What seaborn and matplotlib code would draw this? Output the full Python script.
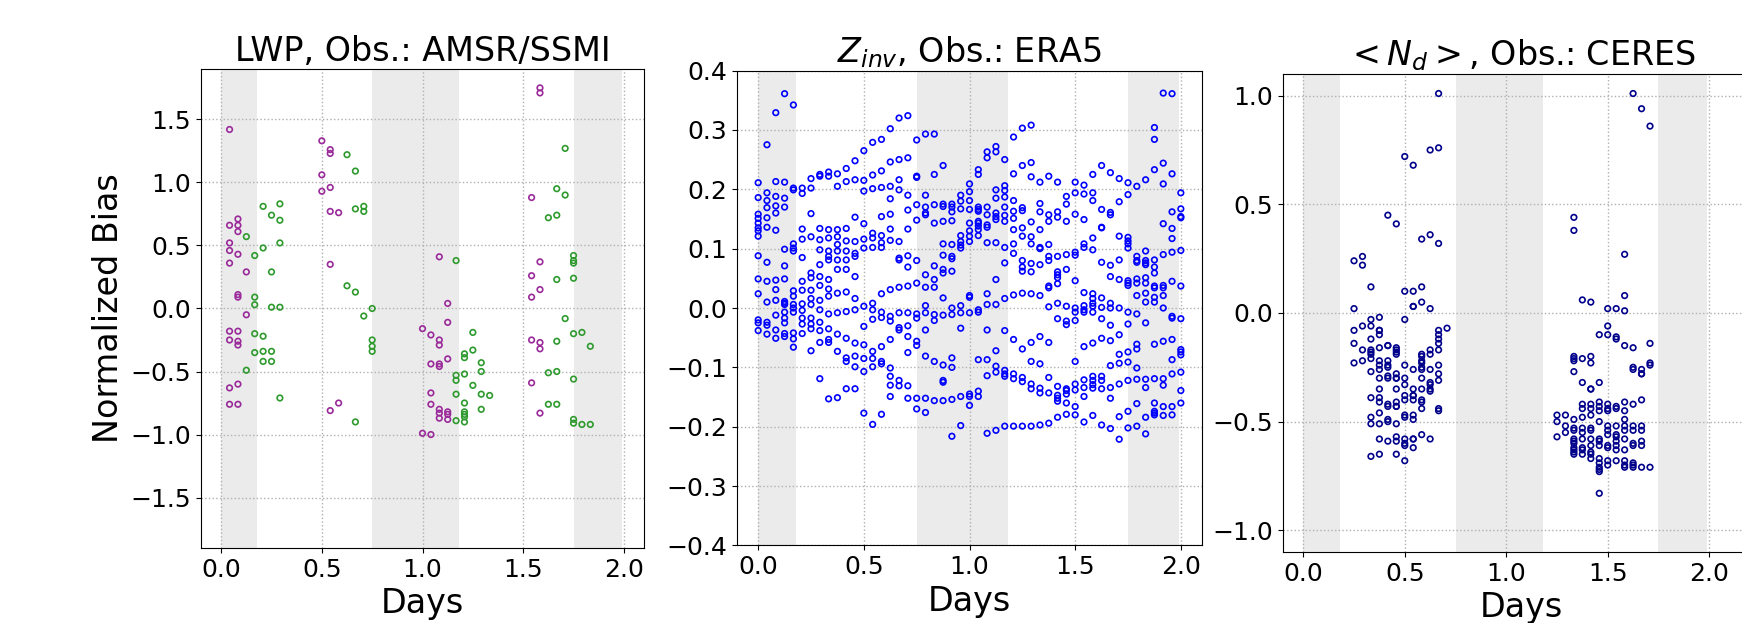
import numpy as np
import pandas as pd
import matplotlib
matplotlib.use('Agg')
import matplotlib.pyplot as plt
import seaborn as sns

# x positions are hourly outputs, x = hour / 24 (days)
# LWP panel: two sets of model runs (purple and green)
lwp_a_hours = [1, 2, 3, 12, 13, 14, 24, 25, 26, 27, 37, 38]
lwp_a_vals = [
    [1.42, 0.66, 0.52, 0.46, 0.36, -0.18, -0.25, -0.63, -0.76],
    [0.71, 0.66, 0.61, 0.43, 0.11, 0.09, -0.18, -0.26, -0.29, -0.60, -0.76],
    [0.29, -0.05],
    [1.33, 1.06, 0.93],
    [1.26, 1.23, 0.96, 0.77, 0.35, -0.81],
    [0.76, -0.75],
    [-0.16, -0.99],
    [-0.21, -0.44, -0.67, -0.76, -1.00],
    [0.41, -0.25, -0.29, -0.44, -0.46, -0.80, -0.83, -0.87],
    [0.04, -0.11, -0.40, -0.82, -0.84, -0.88],
    [0.88, 0.26, 0.09, -0.25, -0.59],
    [1.75, 1.71, 0.37, 0.15, -0.27, -0.32, -0.83],
]
lwp_b_hours = [3, 4, 5, 6, 7, 15, 16, 17, 18, 28, 29, 30, 31, 32, 39, 40, 41, 42, 43, 44]
lwp_b_vals = [
    [0.57, -0.49],
    [0.42, 0.09, 0.03, -0.20, -0.35],
    [0.81, 0.48, -0.22, -0.34, -0.42],
    [0.74, 0.29, 0.01, -0.34, -0.42],
    [0.83, 0.70, 0.52, 0.01, -0.71],
    [1.22, 0.18],
    [1.09, 0.79, 0.13, -0.90],
    [0.81, 0.77, -0.06],
    [0.00, -0.25, -0.30, -0.34],
    [0.38, -0.53, -0.57, -0.68, -0.89],
    [-0.36, -0.39, -0.52, -0.75, -0.82, -0.84, -0.86, -0.90],
    [-0.19, -0.33, -0.61],
    [-0.43, -0.50, -0.68, -0.80],
    [-0.69],
    [0.72, -0.51, -0.76],
    [0.95, 0.74, 0.23, -0.26, -0.50, -0.76],
    [1.27, 0.90, -0.08],
    [0.42, 0.38, 0.36, 0.24, -0.20, -0.56, -0.88, -0.91],
    [-0.19, -0.92],
    [-0.30, -0.92],
]

# Zinv panel, every hour 0..48
zinv_hours = list(range(49))
zinv_vals = [
    [0.211, 0.186, 0.158, 0.151, 0.143, 0.135, 0.130, 0.121, 0.088, 0.049, 0.024, -0.020, -0.025, -0.038],
    [0.275, 0.194, 0.181, 0.169, 0.152, 0.136, 0.077, 0.045, 0.010, -0.024, -0.029, -0.044],
    [0.329, 0.213, 0.188, 0.172, 0.160, 0.131, 0.047, 0.031, 0.013, -0.012, -0.037, -0.051],
    [0.361, 0.212, 0.185, 0.170, 0.099, 0.071, 0.049, 0.011, 0.008, 0.006, -0.007, -0.017, -0.025, -0.043, -0.048],
    [0.342, 0.202, 0.199, 0.108, 0.101, 0.096, 0.029, 0.020, 0.006, 0.000, -0.007, -0.042, -0.052, -0.066],
    [0.202, 0.193, 0.133, 0.116, 0.085, 0.045, 0.030, 0.007, -0.004, -0.017, -0.027, -0.043],
    [0.218, 0.202, 0.159, 0.120, 0.059, 0.051, 0.030, 0.016, 0.006, -0.017, -0.027, -0.035, -0.072],
    [0.225, 0.222, 0.134, 0.115, 0.098, 0.073, 0.053, 0.038, 0.013, -0.003, -0.024, -0.038, -0.058, -0.119],
    [0.229, 0.222, 0.132, 0.118, 0.096, 0.087, 0.081, 0.048, 0.032, 0.020, -0.010, -0.035, -0.053, -0.058, -0.153],
    [0.226, 0.205, 0.132, 0.120, 0.107, 0.096, 0.081, 0.065, 0.025, -0.008, -0.044, -0.073, -0.151],
    [0.235, 0.213, 0.134, 0.113, 0.096, 0.081, 0.065, 0.027, -0.006, -0.051, -0.084, -0.090, -0.136],
    [0.248, 0.216, 0.153, 0.112, 0.092, 0.087, 0.053, 0.016, -0.003, -0.059, -0.081, -0.099, -0.136],
    [0.265, 0.215, 0.197, 0.142, 0.116, 0.101, 0.003, -0.031, -0.062, -0.085, -0.107, -0.177],
    [0.279, 0.224, 0.201, 0.126, 0.118, 0.102, 0.008, -0.003, -0.019, -0.073, -0.085, -0.099, -0.196],
    [0.284, 0.231, 0.203, 0.154, 0.122, 0.110, 0.102, 0.024, -0.007, -0.016, -0.065, -0.090, -0.094, -0.179],
    [0.302, 0.246, 0.205, 0.184, 0.158, 0.133, 0.114, 0.031, -0.014, -0.022, -0.053, -0.101, -0.115, -0.130, -0.149],
    [0.320, 0.250, 0.216, 0.199, 0.112, 0.084, 0.081, 0.035, -0.008, -0.033, -0.037, -0.122, -0.131],
    [0.324, 0.253, 0.190, 0.165, 0.133, 0.088, 0.069, 0.037, -0.008, -0.030, -0.048, -0.075, -0.131, -0.152],
    [0.283, 0.222, 0.220, 0.174, 0.148, 0.080, 0.042, -0.010, -0.017, -0.056, -0.063, -0.152, -0.170],
    [0.293, 0.190, 0.170, 0.160, 0.157, 0.056, 0.035, 0.004, -0.008, -0.037, -0.081, -0.152, -0.176],
    [0.293, 0.225, 0.174, 0.143, 0.071, 0.048, 0.035, -0.011, -0.021, -0.090, -0.156],
    [0.240, 0.175, 0.171, 0.146, 0.108, 0.089, 0.065, 0.059, 0.017, -0.012, -0.096, -0.122, -0.125, -0.156],
    [0.175, 0.170, 0.162, 0.147, 0.107, 0.087, 0.083, 0.062, 0.000, -0.011, -0.084, -0.100, -0.154, -0.216],
    [0.190, 0.180, 0.167, 0.122, 0.112, 0.106, 0.101, 0.004, -0.008, -0.034, -0.149, -0.198],
    [0.209, 0.196, 0.181, 0.166, 0.143, 0.130, 0.121, 0.112, 0.021, 0.018, -0.008, -0.145, -0.149, -0.164],
    [0.233, 0.225, 0.170, 0.166, 0.163, 0.146, 0.143, 0.138, 0.132, 0.122, -0.003, -0.007, -0.087, -0.140, -0.149],
    [0.263, 0.253, 0.170, 0.157, 0.140, 0.136, 0.110, 0.024, 0.006, -0.037, -0.087, -0.114, -0.211],
    [0.272, 0.263, 0.199, 0.185, 0.160, 0.154, 0.149, 0.110, 0.048, 0.006, -0.072, -0.098, -0.108, -0.206],
    [0.250, 0.206, 0.198, 0.187, 0.170, 0.156, 0.146, 0.102, 0.076, 0.016, -0.038, -0.105, -0.111, -0.115, -0.199],
    [0.288, 0.226, 0.181, 0.163, 0.151, 0.132, 0.108, 0.092, 0.022, -0.053, -0.111, -0.119, -0.199],
    [0.303, 0.240, 0.169, 0.164, 0.135, 0.121, 0.080, 0.069, 0.062, 0.025, -0.069, -0.117, -0.124, -0.199],
    [0.308, 0.245, 0.221, 0.145, 0.120, 0.108, 0.075, 0.061, 0.024, -0.058, -0.090, -0.128, -0.136, -0.199],
    [0.212, 0.176, 0.162, 0.132, 0.102, 0.100, 0.073, 0.021, -0.048, -0.094, -0.135, -0.143, -0.197],
    [0.222, 0.157, 0.146, 0.107, 0.087, 0.080, 0.037, 0.034, 0.002, -0.058, -0.117, -0.143, -0.194],
    [0.212, 0.162, 0.153, 0.087, 0.061, 0.056, 0.051, 0.041, 0.008, -0.018, -0.132, -0.147, -0.152, -0.157, -0.184],
    [0.188, 0.175, 0.146, 0.090, 0.065, 0.003, -0.022, -0.028, -0.136, -0.139, -0.145, -0.160, -0.179],
    [0.212, 0.194, 0.158, 0.094, 0.089, 0.046, 0.000, -0.007, -0.021, -0.090, -0.128, -0.138, -0.166, -0.180],
    [0.207, 0.192, 0.149, 0.108, 0.102, 0.026, 0.004, -0.003, -0.007, -0.065, -0.121, -0.134, -0.149, -0.192],
    [0.225, 0.194, 0.181, 0.118, 0.098, 0.024, 0.016, 0.008, 0.003, -0.007, -0.059, -0.115, -0.122, -0.129, -0.135, -0.181],
    [0.240, 0.166, 0.136, 0.135, 0.077, 0.017, 0.001, -0.018, -0.051, -0.115, -0.122, -0.136, -0.197],
    [0.228, 0.161, 0.157, 0.072, 0.053, 0.008, 0.000, -0.029, -0.055, -0.097, -0.134, -0.152, -0.203],
    [0.218, 0.179, 0.121, 0.081, 0.048, 0.000, -0.045, -0.078, -0.093, -0.128, -0.183, -0.221],
    [0.211, 0.191, 0.119, 0.113, 0.108, 0.101, 0.046, 0.042, 0.038, -0.007, -0.027, -0.074, -0.091, -0.122, -0.174, -0.202],
    [0.205, 0.087, 0.080, 0.077, 0.049, 0.042, 0.021, -0.010, -0.061, -0.069, -0.101, -0.120, -0.161, -0.199],
    [0.216, 0.096, 0.080, 0.076, 0.073, 0.051, 0.042, 0.025, 0.010, -0.025, -0.120, -0.134, -0.184, -0.212],
    [0.304, 0.284, 0.233, 0.081, 0.069, 0.059, 0.037, 0.034, 0.018, 0.010, -0.061, -0.119, -0.160, -0.174, -0.177, -0.180],
    [0.362, 0.244, 0.209, 0.142, 0.090, 0.038, 0.034, 0.021, 0.000, -0.056, -0.119, -0.130, -0.166, -0.181],
    [0.361, 0.226, 0.162, 0.134, 0.117, 0.094, 0.045, -0.014, -0.017, -0.053, -0.087, -0.111, -0.166, -0.180],
    [0.194, 0.167, 0.154, 0.152, 0.097, 0.037, -0.018, -0.070, -0.074, -0.079, -0.108, -0.139, -0.160],
]

# Nd panel (only daytime overpasses)
nd_hours = [6, 7, 8, 9, 10, 11, 12, 13, 14, 15, 16, 17,
            30, 31, 32, 33, 34, 35, 36, 37, 38, 39, 40, 41]
nd_vals = [
    [0.24, 0.02, -0.08, -0.14, -0.23],
    [0.26, 0.22, -0.06, -0.17, -0.22],
    [0.12, -0.03, -0.06, -0.12, -0.17, -0.18, -0.19, -0.21, -0.27, -0.39, -0.48, -0.51, -0.66],
    [-0.02, -0.08, -0.08, -0.10, -0.16, -0.22, -0.24, -0.26, -0.30, -0.35, -0.39, -0.41, -0.46, -0.51, -0.58, -0.65],
    [0.45, -0.15, -0.15, -0.22, -0.24, -0.25, -0.29, -0.30, -0.42, -0.43, -0.49, -0.50, -0.59],
    [0.41, -0.16, -0.17, -0.18, -0.19, -0.28, -0.30, -0.30, -0.35, -0.41, -0.43, -0.43, -0.51, -0.57, -0.59, -0.65],
    [0.72, 0.10, -0.03, -0.24, -0.30, -0.33, -0.38, -0.40, -0.47, -0.48, -0.58, -0.60, -0.61, -0.68],
    [0.68, 0.10, 0.03, 0.03, -0.26, -0.35, -0.38, -0.38, -0.40, -0.47, -0.49, -0.58, -0.58, -0.62],
    [0.34, 0.12, 0.05, -0.19, -0.20, -0.22, -0.23, -0.25, -0.26, -0.30, -0.35, -0.40, -0.41, -0.44, -0.56],
    [0.75, 0.36, 0.02, -0.17, -0.19, -0.26, -0.32, -0.33, -0.35, -0.36, -0.58],
    [1.01, 0.76, 0.32, -0.08, -0.10, -0.12, -0.14, -0.17, -0.24, -0.28, -0.31, -0.44, -0.45],
    [-0.07],
    [-0.47, -0.50, -0.57],
    [-0.47, -0.52, -0.55],
    [0.44, 0.38, -0.20, -0.21, -0.22, -0.27, -0.49, -0.53, -0.54, -0.58, -0.59, -0.60, -0.62, -0.63, -0.64, -0.65],
    [0.06, -0.21, -0.32, -0.42, -0.44, -0.48, -0.53, -0.55, -0.58, -0.62, -0.63, -0.65],
    [0.05, -0.20, -0.23, -0.35, -0.35, -0.42, -0.44, -0.47, -0.53, -0.54, -0.58, -0.61, -0.64, -0.65, -0.67],
    [-0.10, -0.32, -0.41, -0.43, -0.45, -0.50, -0.58, -0.59, -0.61, -0.67, -0.69, -0.71, -0.72, -0.73, -0.83],
    [0.02, -0.06, -0.10, -0.42, -0.44, -0.45, -0.52, -0.54, -0.56, -0.61, -0.62, -0.68, -0.70],
    [0.02, -0.11, -0.12, -0.43, -0.44, -0.52, -0.56, -0.57, -0.59, -0.61, -0.63, -0.68],
    [0.27, 0.08, 0.01, -0.15, -0.41, -0.45, -0.49, -0.52, -0.54, -0.58, -0.63, -0.68, -0.70, -0.71],
    [1.01, -0.16, -0.25, -0.26, -0.42, -0.52, -0.54, -0.60, -0.61, -0.69, -0.70, -0.71],
    [0.94, -0.26, -0.28, -0.28, -0.40, -0.52, -0.54, -0.59, -0.61, -0.71],
    [0.86, -0.14, -0.23, -0.24, -0.71],
]

# night time shading (days)
night_spans = [(0.0, 0.18), (0.75, 1.18), (1.75, 1.99)]


def to_frame(hours, cols):
    rows = [(h / 24.0, v) for h, col in zip(hours, cols) for v in col]
    return pd.DataFrame(rows, columns=['Days', 'Bias'])


df_lwp_a = to_frame(lwp_a_hours, lwp_a_vals)
df_lwp_b = to_frame(lwp_b_hours, lwp_b_vals)
df_zinv = to_frame(zinv_hours, zinv_vals)
df_nd = to_frame(nd_hours, nd_vals)

fig = plt.figure(figsize=(17.42, 6.23), dpi=100)
ax1 = fig.add_axes([0.1154, 0.1204, 0.2543, 0.7689])
ax2 = fig.add_axes([0.4231, 0.1244, 0.2669, 0.7624])
ax3 = fig.add_axes([0.7365, 0.1140, 0.2738, 0.7673])


def draw(ax, df, color):
    sns.scatterplot(x='Days', y='Bias', data=df, ax=ax, marker='o', s=16,
                    color=color, facecolor='none', edgecolor=color,
                    linewidth=1.2, zorder=3)


draw(ax1, df_lwp_a, '#9a2a9a')
draw(ax1, df_lwp_b, '#2e9a2e')
draw(ax2, df_zinv, 'blue')
draw(ax3, df_nd, 'darkblue')

titles = ['LWP, Obs.: AMSR/SSMI', r'$Z_{inv}$, Obs.: ERA5', r'$<N_d>$, Obs.: CERES']
ylims = [(-1.9, 1.9), (-0.4, 0.4), (-1.1, 1.1)]
xlims = [(-0.1, 2.1), (-0.1, 2.1), (-0.1, 2.25)]
yticks = [np.round(np.arange(-1.5, 1.51, 0.5), 2),
          np.round(np.arange(-0.4, 0.41, 0.1), 2),
          np.round(np.arange(-1.0, 1.01, 0.5), 2)]

for ax, t, yl, xl, yt in zip([ax1, ax2, ax3], titles, ylims, xlims, yticks):
    for a, b in night_spans:
        ax.axvspan(a, b, color='#ebebeb', lw=0, zorder=0)
    ax.grid(True, linestyle=':', color='#b0b0b0', linewidth=1.0)
    ax.set_xlim(xl)
    ax.set_ylim(yl)
    ax.set_xticks(np.round(np.arange(0, 2.01, 0.5), 2))
    ax.set_yticks(yt)
    ax.tick_params(labelsize=18)
    ax.set_title(t, fontsize=24)
    ax.set_xlabel('Days', fontsize=24)
    ax.set_ylabel('')

ax1.set_ylabel('Normalized Bias', fontsize=24)

fig.savefig('out.png', dpi=100)
